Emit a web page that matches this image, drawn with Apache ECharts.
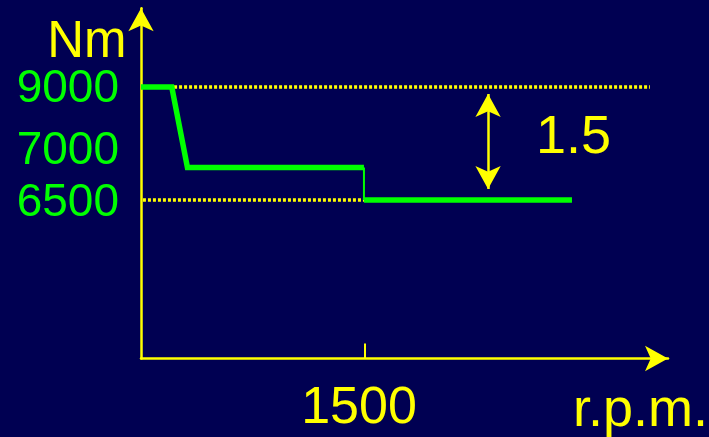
<!DOCTYPE html>
<html>
<head>
<meta charset="utf-8">
<script src="https://cdn.jsdelivr.net/npm/echarts@6/dist/echarts.min.js"></script>
<style>
  html, body { margin: 0; padding: 0; background: #000052; }
  #chart { width: 709px; height: 437px; }
</style>
</head>
<body>
<div id="chart"></div>
<script>
// torque curve (schematic), rpm on x, Nm on y
const torqueRpm = [0, 206, 311, 1493];
const torqueNm = [9000, 9000, 7220, 7220];
const dropRpm = [1493, 1493];
const dropNm = [7220, 6500];
const tailRpm = [1493, 2886];
const tailNm = [6500, 6500];

// dotted reference levels
const ref9000Rpm = [188, 3408];
const ref6500Rpm = [13, 1500];

// double arrow showing the 1.5 ratio
const arrowRpm = 2324;
const arrowNm = [8845, 6746];

// tick labels
const yLabelAt = [8940, 7580, 6440];
const yLabels = ['9000', '7000', '6500'];
const xLabelAt = [1500];

const yellow = '#ffff00';
const green = '#00ff00';
const font = 'Liberation Sans, Arial, sans-serif';

const pairs = (xs, ys) => xs.map((x, i) => [x, ys[i]]);

const chart = echarts.init(document.getElementById('chart'));

chart.setOption({
  backgroundColor: '#000052',
  animation: false,
  grid: {
    left: 141, right: 41, top: 8.3, bottom: 78.5,
    containLabel: false,
    outerBoundsMode: 'none'
  },
  xAxis: {
    type: 'value',
    min: 0,
    max: 3529,
    axisLine: {
      show: true,
      symbol: ['none', 'arrow'],
      symbolSize: [19, 23],
      lineStyle: { color: yellow, width: 2.5 }
    },
    axisTick: {
      show: true,
      inside: true,
      length: 15,
      customValues: xLabelAt,
      lineStyle: { color: yellow, width: 2 }
    },
    axisLabel: {
      customValues: xLabelAt,
      formatter: v => String(v),
      color: yellow,
      fontSize: 52,
      fontFamily: font,
      margin: 24,
      padding: [0, 12, 0, 0]
    },
    splitLine: { show: false }
  },
  yAxis: {
    type: 'value',
    min: 3000,
    max: 10739,
    axisLine: {
      show: true,
      symbol: ['none', 'arrow'],
      symbolSize: [19, 23],
      lineStyle: { color: yellow, width: 2.5 }
    },
    axisTick: { show: false },
    axisLabel: {
      customValues: yLabelAt,
      formatter: v => yLabels[yLabelAt.indexOf(v)],
      color: green,
      fontSize: 46,
      fontFamily: font,
      margin: 22
    },
    splitLine: { show: false }
  },
  graphic: [
    {
      type: 'text', x: 126.5, y: 43,
      style: { text: 'Nm', fill: yellow, font: '51px ' + font, align: 'right', verticalAlign: 'middle' }
    },
    {
      type: 'text', x: 573, y: 411.5,
      style: { text: 'r.p.m.', fill: yellow, font: '54px ' + font, align: 'left', verticalAlign: 'middle' }
    },
    {
      type: 'text', x: 536, y: 138.5,
      style: { text: '1.5', fill: yellow, font: '54px ' + font, align: 'left', verticalAlign: 'middle' }
    }
  ],
  series: [
    {
      name: 'ref9000',
      type: 'line',
      data: pairs(ref9000Rpm, [9000, 9000]),
      symbol: 'none',
      lineStyle: { color: yellow, width: 3.5, type: [3, 2] },
      silent: true
    },
    {
      name: 'ref6500',
      type: 'line',
      data: pairs(ref6500Rpm, [6500, 6500]),
      symbol: 'none',
      lineStyle: { color: yellow, width: 3.5, type: [3, 2] },
      silent: true,
      markLine: {
        silent: true,
        symbol: ['arrow', 'arrow'],
        symbolSize: [19, 23],
        label: { show: false },
        lineStyle: { color: yellow, width: 2.5, type: 'solid' },
        data: [[
          { coord: [arrowRpm, arrowNm[0]] },
          { coord: [arrowRpm, arrowNm[1]] }
        ]]
      }
    },
    {
      name: 'torque',
      type: 'line',
      data: pairs(torqueRpm, torqueNm),
      symbol: 'none',
      lineStyle: { color: green, width: 5.5, join: 'miter' },
      z: 3
    },
    {
      name: 'drop',
      type: 'line',
      data: pairs(dropRpm, dropNm),
      symbol: 'none',
      lineStyle: { color: green, width: 2 },
      z: 3
    },
    {
      name: 'tail',
      type: 'line',
      data: pairs(tailRpm, tailNm),
      symbol: 'none',
      lineStyle: { color: green, width: 5.5 },
      z: 3
    }
  ]
});
</script>
</body>
</html>
